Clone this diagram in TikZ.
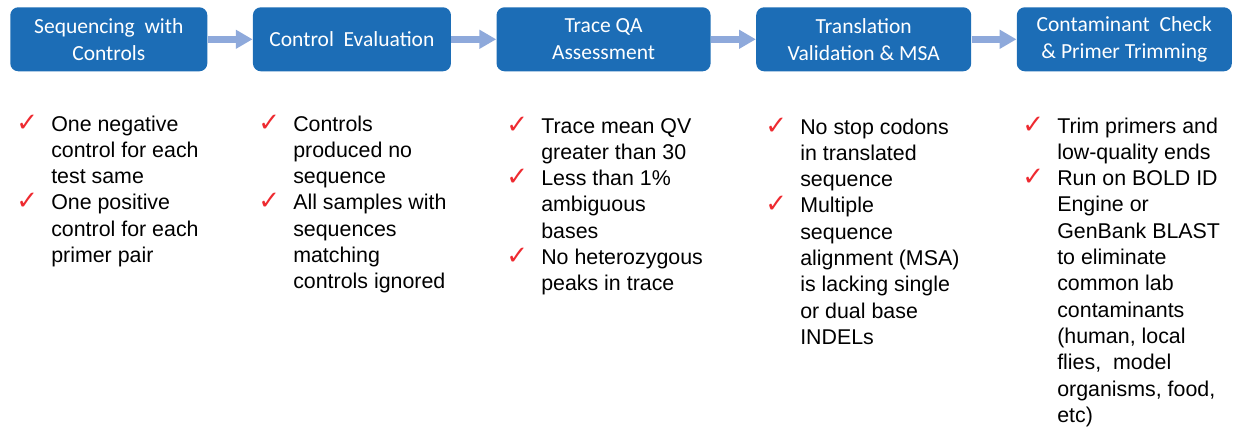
\documentclass[tikz,border=0pt]{standalone}
\usepackage{fontspec}
\setmainfont{Liberation Sans}
\newfontfamily\boxfont{Carlito}
\newfontfamily\symfont{DejaVu Sans}
\usepackage{xcolor}
\usepackage{tikz}
\usetikzlibrary{positioning,arrows.meta}

\definecolor{stepblue}{HTML}{1C6DB6}
\definecolor{flowblue}{HTML}{8EA9DB}
\definecolor{tickred}{HTML}{EE2A30}
\newcommand{\tick}{\makebox[0.875cm][l]{\textcolor{tickred}{\symfont\fontsize{18.5}{18.7}\selectfont ✓}}}
\newcommand{\gap}{\hspace*{0.875cm}}

\begin{document}
\begin{tikzpicture}[
    x=0.025cm, y=-0.025cm,
    node distance=1.125cm,
    stepbox/.style={rectangle, rounded corners=0.2cm, fill=stepblue, text=white, minimum height=1.6cm, align=center, inner sep=2pt, font=\boxfont\fontsize{15.3}{19.2}\selectfont},
    flow/.style={draw=flowblue, line width=0.175cm, -{Triangle[width=0.45cm,length=0.42cm]}},
    checklist/.style={anchor=base west, inner sep=0pt, align=left, font=\fontsize{15.2}{18.7}\selectfont},
]
\useasboundingbox (0,0) rectangle (1235,428);
% Steps
\node[stepbox, minimum width=4.925cm, anchor=north west] (seq) at (10,7) {Sequencing\ \ with\\Controls};
\node[stepbox, minimum width=4.95cm, right=of seq] (ctrl) {Control\ \ Evaluation};
\node[stepbox, minimum width=5.35cm, right=of ctrl] (trace) {Trace QA\\Assessment};
\node[stepbox, minimum width=5.375cm, right=of trace] (transl) {Translation\\Validation \& MSA};
\node[stepbox, minimum width=5.375cm, right=of transl] (contam) {Contaminant\ \ Check\\\& Primer Trimming};
\draw[flow] (seq) -- (ctrl);
\draw[flow] (ctrl) -- (trace);
\draw[flow] (trace) -- (transl);
\draw[flow] (transl) -- (contam);
% Check lists (anchored at the baseline of the last line, 26.3 per line)
\node[checklist] (seq_list) at (16,{131+5*26.3}) {\tick One negative\\\gap control for each\\\gap test same\\\tick One positive\\\gap control for each\\\gap primer pair};
\node[checklist] (ctrl_list) at (258,{131+6*26.3}) {\tick Controls\\\gap produced no\\\gap sequence\\\tick All samples with\\\gap sequences\\\gap matching\\\gap controls ignored};
\node[checklist] (trace_list) at (506,{133+6*26.3}) {\tick Trace mean QV\\\gap greater than 30\\\tick Less than 1\%\\\gap ambiguous\\\gap bases\\\tick No heterozygous\\\gap peaks in trace};
\node[checklist] (transl_list) at (765,{134+8*26.3}) {\tick No stop codons\\\gap in translated\\\gap sequence\\\tick Multiple\\\gap sequence\\\gap alignment (MSA)\\\gap is lacking single\\\gap or dual base\\\gap INDELs};
\node[checklist] (contam_list) at (1022,{133+11*26.3}) {\tick Trim primers and\\\gap low-quality ends\\\tick Run on BOLD ID\\\gap Engine or\\\gap GenBank BLAST\\\gap to eliminate\\\gap common lab\\\gap contaminants\\\gap (human, local\\\gap flies,\ \ model\\\gap organisms, food,\\\gap etc)};
\end{tikzpicture}
\end{document}
